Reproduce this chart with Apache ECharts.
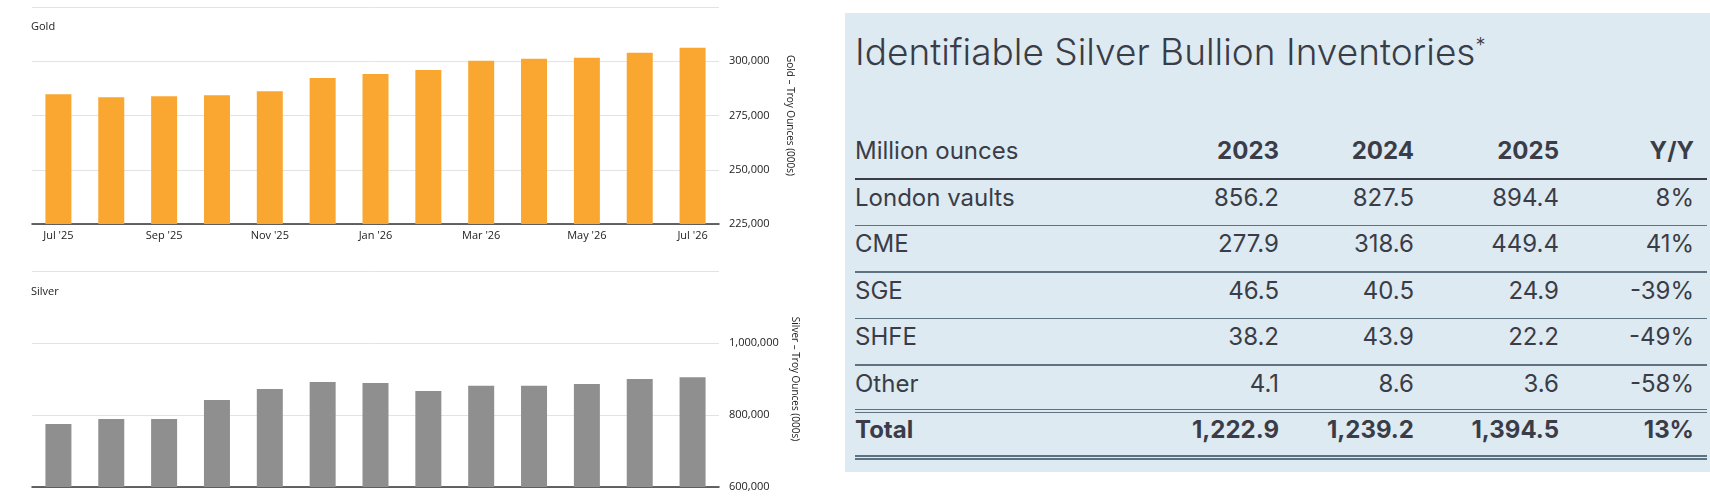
<!DOCTYPE html>
<html>
<head>
<meta charset="utf-8">
<script src="https://cdn.jsdelivr.net/npm/echarts@6/dist/echarts.min.js"></script>
<style>
  body { margin:0; background:#fff; font-family:Inter, "Noto Sans", sans-serif; }
  #chart { position:absolute; left:0; top:0; width:845px; height:496px; }
  #panel { position:absolute; left:845px; top:13px; width:865px; height:459px; background:#deeaf1; color:#3a3d48; }
  #panel .title { position:absolute; left:10px; top:16px; font-size:37px; font-weight:300; white-space:nowrap; }
  #panel .title sup { font-size:20px; }
  .cell { position:absolute; font-size:24px; white-space:nowrap; }
  .line { position:absolute; left:10px; width:852px; }
</style>
</head>
<body>
<div id="chart"></div>
<div id="panel"><div class="title">Identifiable Silver Bullion Inventories<sup>*</sup></div></div>
<script>
// monthly data, troy ounces (000s)
var months = ["Jul '25","Aug '25","Sep '25","Oct '25","Nov '25","Dec '25","Jan '26",
              "Feb '26","Mar '26","Apr '26","May '26","Jun '26","Jul '26"];
var goldValues = [284800,283400,283900,284300,286200,292300,294100,296000,300200,301100,301600,303900,306200];
var silverValues = [775000,789000,789000,842000,872000,892000,889000,867000,881000,881000,886000,900000,905000];

// table data, million ounces
var tableHead = ["Million ounces","2023","2024","2025","Y/Y"];
var tableRows = ["London vaults","CME","SGE","SHFE","Other"];
var col2023 = ["856.2","277.9","46.5","38.2","4.1"];
var col2024 = ["827.5","318.6","40.5","43.9","8.6"];
var col2025 = ["894.4","449.4","24.9","22.2","3.6"];
var colYoY  = ["8%","41%","-39%","-49%","-58%"];
var totalRow = ["Total","1,222.9","1,239.2","1,394.5","13%"];

var fnt = '"Open Sans", sans-serif';
function fmt(v){ return v.toLocaleString('en-US'); }

function yAxis(gi, min, max, interval, name){
    return {
        gridIndex: gi, position:'right', min:min, max:max, interval:interval,
        axisLabel:{ showMaxLabel:false, formatter:fmt, color:'#222', fontSize:11, fontFamily:fnt, margin:10 },
        splitLine:{ lineStyle:{ color:'#e3e3e3' } },
        axisLine:{ show:false }, axisTick:{ show:false },
        name:name, nameLocation:'middle', nameRotate:-90, nameGap:66,
        nameTextStyle:{ fontSize:10, color:'#222', fontFamily:fnt }
    };
}

var myChart = echarts.init(document.getElementById('chart'));
myChart.setOption({
    animation:false,
    title:[
        { text:'Gold', left:26, top:16, textStyle:{ fontSize:11, fontWeight:'normal', color:'#222', fontFamily:fnt } },
        { text:'Silver', left:26, top:281, textStyle:{ fontSize:11, fontWeight:'normal', color:'#222', fontFamily:fnt } }
    ],
    grid:[
        { left:32, top:7, width:687, height:217 },
        { left:32, top:271, width:687, height:216 }
    ],
    xAxis:[
        { gridIndex:0, type:'category', data:months,
          axisLine:{ lineStyle:{ color:'#333', width:1.5 } },
          axisTick:{ alignWithLabel:true, interval:1, lineStyle:{ color:'#ccc' } },
          axisLabel:{ interval:1, color:'#222', fontSize:11, fontFamily:fnt, margin:6 } },
        { gridIndex:1, type:'category', data:months,
          axisLine:{ lineStyle:{ color:'#333', width:1.5 } },
          axisTick:{ show:false }, axisLabel:{ show:false } }
    ],
    yAxis:[
        yAxis(0, 225000, 325000, 25000, 'Gold – Troy Ounces (000s)'),
        yAxis(1, 600000, 1200000, 200000, 'Silver – Troy Ounces (000s)')
    ],
    series:[
        { type:'bar', xAxisIndex:0, yAxisIndex:0, data:goldValues, barWidth:26, itemStyle:{ color:'#f9a731' } },
        { type:'bar', xAxisIndex:1, yAxisIndex:1, data:silverValues, barWidth:26, itemStyle:{ color:'#8e8f8e' } }
    ]
});

// table drawn from the arrays above
var panel = document.getElementById('panel');
var colRight = [434, 569, 714, 849];
var baseTop = 123, pitch = 46.5;
function addRow(cells, top, bold){
    cells.forEach(function(t, i){
        var d = document.createElement('div');
        d.className = 'cell';
        d.textContent = t;
        d.style.top = top + 'px';
        if (bold) d.style.fontWeight = 700;
        if (i === 0) { d.style.left = '10px'; }
        else { d.style.right = (865 - colRight[i-1]) + 'px'; }
        panel.appendChild(d);
    });
}
function addLine(top, h, color){
    var l = document.createElement('div');
    l.className = 'line';
    l.style.top = top + 'px';
    l.style.height = h + 'px';
    l.style.background = color;
    panel.appendChild(l);
}
addRow(tableHead.map(function(t){ return t; }), baseTop, false);
// header years bold
Array.prototype.slice.call(panel.querySelectorAll('.cell'), 1).forEach(function(c){ c.style.fontWeight = 700; });
addLine(165, 2, '#3a3d48');
tableRows.forEach(function(r, i){
    var top = baseTop + pitch * (i + 1);
    addRow([r, col2023[i], col2024[i], col2025[i], colYoY[i]], top, false);
    if (i < tableRows.length - 1) addLine(165 + pitch * (i + 1), 1.5, '#5d7382');
});
addLine(165 + pitch * 5 - 2, 1.5, '#5d7382');
addLine(165 + pitch * 5 + 1, 1.5, '#5d7382');
addRow(totalRow, baseTop + pitch * 6, true);
addLine(165 + pitch * 6 - 2, 1.5, '#5d7382');
addLine(165 + pitch * 6 + 1, 1.5, '#5d7382');
</script>
</body>
</html>
